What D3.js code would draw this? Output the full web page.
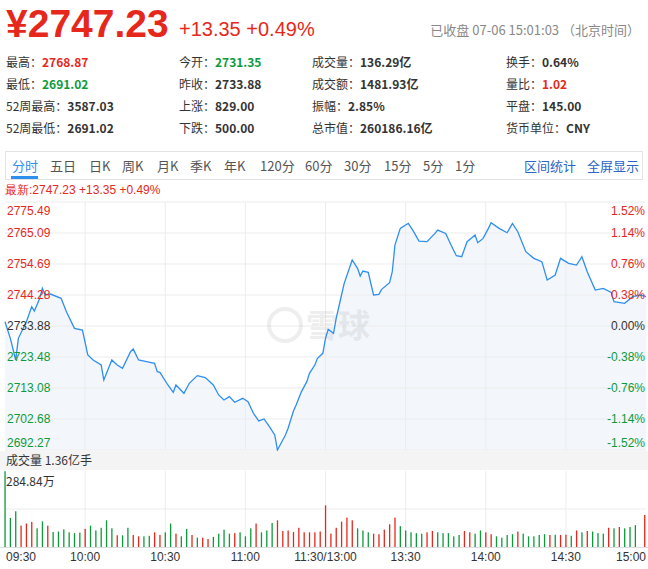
<!DOCTYPE html>
<html><head><meta charset="utf-8">
<script src="https://cdn.jsdelivr.net/npm/d3@7/dist/d3.min.js"></script>
<style>body{margin:0;background:#fff;font-family:"Noto Sans CJK SC","Noto Sans",Arial,sans-serif}</style>
</head><body><svg id="c" width="648" height="569"></svg>
<script>
const prevClose = 2733.88;
const priceTicks = [2775.49,2765.09,2754.69,2744.28,2733.88,2723.48,2713.08,2702.68,2692.27];
const pctTicks = ["1.52%","1.14%","0.76%","0.38%","0.00%","-0.38%","-0.76%","-1.14%","-1.52%"];
const timeLabels = ["09:30","10:00","10:30","11:00","11:30/13:00","13:30","14:00","14:30","15:00"];
const priceMinutes = [0,2,4,5,8,10,11,13,14,15,17,21,23,26,29,31,33,36,37,40,42,44,47,48,50,53,56,57,58,61,63,64,67,69,72,75,78,80,82,84,86,89,91,93,95,97,99,101,102,105,106,108,109,111,113,114,116,117,119,120,121,123,124,126,127,130,132,133,134,136,138,140,141,144,145,146,148,150,151,153,155,158,161,162,165,167,169,171,173,176,177,179,181,182,185,188,190,192,195,198,201,203,206,208,211,214,216,218,221,224,227,228,232,235,238,240];
const prices = [2735.33,2729.74,2722.48,2729.74,2735.33,2740.36,2738.91,2743.16,2746.51,2744.28,2744.61,2743.16,2738.69,2733.10,2732.54,2724.15,2722.48,2720.80,2715.77,2722.48,2720.80,2719.68,2725.27,2726.17,2722.48,2721.92,2721.36,2718.56,2718.34,2714.09,2711.63,2714.09,2711.30,2714.65,2717.22,2716.55,2714.09,2710.74,2709.06,2710.18,2708.28,2709.62,2708.50,2704.59,2702.02,2702.69,2700.12,2697.32,2692.29,2697.32,2699.56,2705.37,2707.38,2711.86,2715.21,2718.00,2720.80,2723.04,2724.71,2729.74,2732.76,2731.42,2736.45,2744.28,2748.19,2756.02,2753.22,2750.65,2752.33,2751.88,2744.28,2744.50,2746.18,2748.41,2752.10,2761.05,2766.64,2767.76,2768.31,2765.52,2762.39,2762.17,2764.96,2766.08,2764.96,2761.05,2757.47,2757.14,2762.17,2764.40,2761.83,2763.28,2766.64,2768.54,2766.64,2765.18,2768.31,2765.52,2758.81,2756.58,2755.46,2749.31,2750.99,2756.58,2754.90,2754.34,2757.13,2752.10,2745.95,2746.51,2745.17,2742.04,2741.48,2743.72,2744.28,2743.72];
const volumes = [284,109,134,80,88,94,70,96,80,56,58,66,55,52,54,68,80,62,72,100,70,44,44,72,45,40,40,42,55,45,55,88,50,40,68,45,35,35,30,38,50,65,50,52,55,40,70,88,55,62,90,100,60,62,56,72,55,55,55,58,156,50,72,95,110,100,70,62,55,50,48,65,85,110,78,62,55,52,50,55,60,55,52,52,40,45,60,55,50,62,55,48,40,35,45,48,58,50,40,40,45,48,45,46,45,46,42,62,55,60,58,52,50,72,70,75,70,75,82,120];
const volUp = "gggrrrggrggggggrgggggrggrrggrrggrggrgrrggggrgggrgggrrrrrrrrrrrrrrrgggrrrrrgggggrrgggggrrggrrggggrgggggrgrrgrgrgggrgrgggrrrg";
const maxVol = 284.84;

const svg = d3.select("#c");
const RED="#e5281b", GREEN="#0e9a3b", BLUE="#2e8ff0";
const X0=5, X1=646;
const x = d3.scaleLinear().domain([0,240]).range([X0,X1]);
const y = d3.scaleLinear().domain([2692.27,2775.49]).range([450,202]);
const yv = d3.scaleLinear().domain([0,maxVol]).range([547,471]);

svg.append("text").attr("x",6).attr("y",37).attr("fill",RED).attr("font-size",39).attr("font-weight","bold").attr("font-family","Arial, Liberation Sans").text("¥2747.23");
svg.append("text").attr("x",179).attr("y",36).attr("fill",RED).attr("font-size",20).attr("font-family","Arial, Liberation Sans").text("+13.35 +0.49%");
svg.append("text").attr("x",640).attr("y",35).attr("text-anchor","end").attr("fill","#888").attr("font-size",13).text("已收盘 07-06 15:01:03 （北京时间）");

const info = [
 [6,67,"最高：","2768.87",RED],[179,67,"今开：","2731.35",GREEN],[312,67,"成交量：","136.29亿","#333"],[506,67,"换手：","0.64%","#333"],
 [6,89,"最低：","2691.02",GREEN],[179,89,"昨收：","2733.88","#333"],[312,89,"成交额：","1481.93亿","#333"],[506,89,"量比：","1.02",RED],
 [6,111,"52周最高：","3587.03","#333"],[179,111,"上涨：","829.00","#333"],[312,111,"振幅：","2.85%","#333"],[506,111,"平盘：","145.00","#333"],
 [6,133,"52周最低：","2691.02","#333"],[179,133,"下跌：","500.00","#333"],[312,133,"总市值：","260186.16亿","#333"],[506,133,"货币单位：","CNY","#333"]];
info.forEach(d=>{const t=svg.append("text").attr("x",d[0]).attr("y",d[1]).attr("font-size",12).attr("fill","#333");
 t.append("tspan").text(d[2]); t.append("tspan").attr("fill",d[4]).attr("font-weight","bold").text(d[3]);});

svg.append("rect").attr("x",5.5).attr("y",151.5).attr("width",637).attr("height",28).attr("fill","#fff").attr("stroke","#e3e3e3");
const tabs=[["分时",12],["五日",50],["日K",89],["周K",122],["月K",157],["季K",190],["年K",224],["120分",260],["60分",305],["30分",344],["15分",384],["5分",423],["1分",455]];
tabs.forEach((d,i)=>svg.append("text").attr("x",d[1]).attr("y",171).attr("font-size",13).attr("fill",i==0?BLUE:"#555").text(d[0]));
svg.append("rect").attr("x",11).attr("y",176).attr("width",27).attr("height",3).attr("fill",BLUE);
svg.append("text").attr("x",524).attr("y",171).attr("font-size",13).attr("fill","#2a63c9").text("区间统计");
svg.append("text").attr("x",587).attr("y",171).attr("font-size",13).attr("fill","#2a63c9").text("全屏显示");
svg.append("text").attr("x",5).attr("y",194).attr("font-size",12).attr("fill",RED).attr("font-family","Arial, Liberation Sans").text("最新:2747.23 +13.35 +0.49%");

const pts = priceMinutes.map((m,i)=>[m,prices[i]]);
svg.append("path").datum(pts).attr("fill","#f3f6fb").attr("d",d3.area().x(d=>x(d[0])).y0(450).y1(d=>y(d[1])));

const g = svg.append("g");
priceTicks.forEach(p=>g.append("line").attr("x1",X0).attr("x2",X1).attr("y1",y(p)).attr("y2",y(p)).attr("stroke","#ececec"));
for(let i=1;i<8;i++){const xx=x(i*30);g.append("line").attr("x1",xx).attr("x2",xx).attr("y1",202).attr("y2",450).attr("stroke","#ececec");
 g.append("line").attr("x1",xx).attr("x2",xx).attr("y1",471).attr("y2",547).attr("stroke","#ececec");}
g.append("line").attr("x1",X0).attr("x2",X1).attr("y1",509).attr("y2",509).attr("stroke","#ececec");

const wm=svg.append("g").attr("opacity",0.12);
wm.append("circle").attr("cx",285).attr("cy",325).attr("r",16).attr("fill","none").attr("stroke","#777").attr("stroke-width",4);
wm.append("text").attr("x",306).attr("y",337).attr("font-size",32).attr("fill","#777").attr("font-weight","bold").text("雪球");

svg.append("path").datum(pts).attr("fill","none").attr("stroke",BLUE).attr("stroke-width",1.3).attr("d",d3.line().x(d=>x(d[0])).y(d=>y(d[1])));

priceTicks.forEach((p,i)=>{let yy=y(p)+4; if(i==0) yy=y(p)+13; if(i==8) yy=y(p)-3;
 const col = p>prevClose+0.01?RED:(p<prevClose-0.01?GREEN:"#333");
 svg.append("text").attr("x",7).attr("y",yy).attr("font-size",12).attr("fill",col).attr("font-family","Arial, Liberation Sans").text(p.toFixed(2));
 svg.append("text").attr("x",645).attr("y",yy).attr("text-anchor","end").attr("font-size",12).attr("fill",col).attr("font-family","Arial, Liberation Sans").text(pctTicks[i]);});

svg.append("rect").attr("x",0).attr("y",451).attr("width",648).attr("height",19).attr("fill","#f4f4f4");
svg.append("text").attr("x",6).attr("y",465).attr("font-size",12).attr("fill","#333").text("成交量 1.36亿手");
svg.append("text").attr("x",6).attr("y",486).attr("font-size",12).attr("fill","#333").text("284.84万");

volumes.forEach((v,i)=>{const m = i==volumes.length-1?239.5:i*2;
 svg.append("rect").attr("x",x(m)-0.6).attr("width",1.3).attr("y",yv(v)).attr("height",547-yv(v)).attr("fill",volUp[i]=="r"?RED:GREEN);});
svg.append("line").attr("x1",0).attr("x2",648).attr("y1",547.5).attr("y2",547.5).attr("stroke","#ddd");

timeLabels.forEach((t,i)=>{let xx=x(i*30), anc="middle"; if(i==0){xx=6;anc="start";} if(i==8){xx=646;anc="end";}
 svg.append("text").attr("x",xx).attr("y",561).attr("text-anchor",anc).attr("font-size",12).attr("fill","#333").attr("font-family","Arial, Liberation Sans").text(t);});
</script></body></html>
